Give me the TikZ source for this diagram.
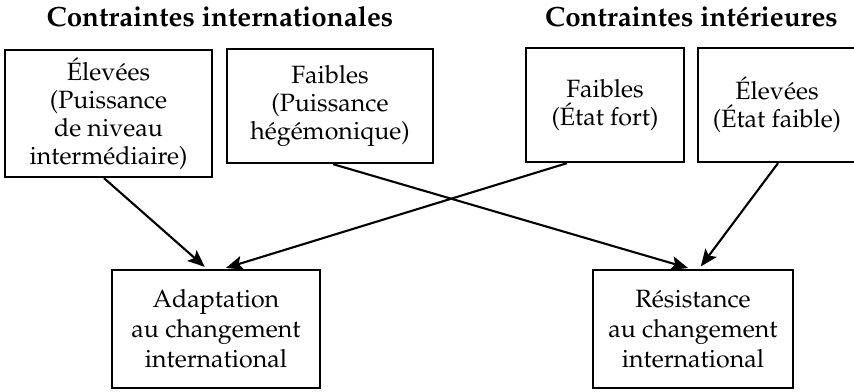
\documentclass[tikz,border=0pt]{standalone}
\usepackage[T1]{fontenc}
\renewcommand{\rmdefault}{ppl}
\usetikzlibrary{arrows.meta}
\begin{document}
\begin{tikzpicture}[x=1pt,y=-1pt,
  boxa/.style={draw, line width=2.3pt, rectangle, inner sep=0pt, align=center,
    font=\fontsize{25}{28}\selectfont},
  boxb/.style={draw, line width=2.3pt, rectangle, inner sep=0pt, align=center,
    font=\fontsize{25}{30}\selectfont},
  ttl/.style={anchor=base, inner sep=0pt, font=\fontsize{27.8}{30}\selectfont\bfseries},
  arr/.style={line width=2.1pt, -{Stealth[length=17pt,width=14pt,inset=3.5pt]}, shorten >=3pt}]
\useasboundingbox (0,0) rectangle (854,391);
\node[ttl] (t1) at (220,26.5) {Contraintes internationales};
\node[ttl] (t2) at (691.5,26.5) {Contraintes intérieures};
\node[boxa, minimum width=207pt, minimum height=127pt] (b1) at (108.5,113.5)
  {Élevées\\(Puissance\\de niveau\\intermédiaire)};
\node[boxa, minimum width=206pt, minimum height=114pt] (b2) at (330,106)
  {Faibles\\(Puissance\\hégémonique)};
\node[boxa, minimum width=158pt, minimum height=114pt] (b3) at (605,105)
  {Faibles\\(État fort)};
\node[boxa, minimum width=158pt, minimum height=114pt] (b4) at (777,105)
  {Élevées\\(État faible)};
\node[boxb, minimum width=208pt, minimum height=118pt] (r1) at (216,329)
  {Adaptation\\au changement\\international};
\node[boxb, minimum width=200pt, minimum height=118pt] (r2) at (693,329)
  {Résistance\\au changement\\international};
\draw[arr] ([xshift=-4.5pt]b1.south) -- ([xshift=-9pt]r1.north);
\draw[arr] ([xshift=-38pt]b3.south) -- ([xshift=7pt]r1.north);
\draw[arr] ([xshift=3pt]b2.south) -- ([xshift=-2pt]r2.north);
\draw[arr] ([xshift=1pt]b4.south) -- ([xshift=6pt]r2.north);
\end{tikzpicture}
\end{document}
